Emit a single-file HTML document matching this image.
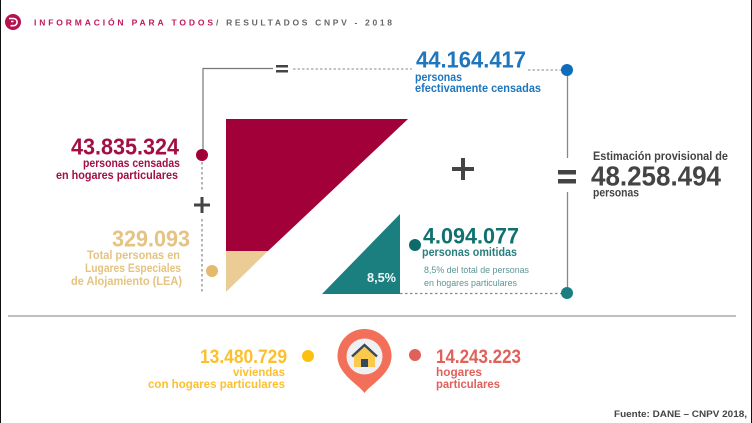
<!DOCTYPE html>
<html lang="es">
<head>
<meta charset="utf-8">
<title>Resultados CNPV 2018</title>
<style>
html,body{margin:0;padding:0;background:#fff;width:752px;height:423px;overflow:hidden}
svg{display:block;filter:blur(0.35px)}
text{font-family:"Liberation Sans",sans-serif;font-weight:bold}
</style>
</head>
<body>
<svg width="752" height="423" viewBox="0 0 752 423" xmlns="http://www.w3.org/2000/svg">
<rect x="0" y="0" width="752" height="423" fill="#fff"/>
<rect x="0" y="0" width="1" height="423" fill="#111"/>
<rect x="751" y="0" width="1" height="423" fill="#111"/>

<g>
<circle cx="13" cy="22" r="8" fill="#b5124f"/>
<path d="M9 18.500h4.500a3.600 3.600 0 0 1 0 7.200H10.500M11 21.500h2.500" fill="none" stroke="#fff" stroke-width="1.600"/>
<text x="34" y="25.500" font-size="8.500" fill="#c2185b" textLength="179" lengthAdjust="spacing">INFORMACIÓN PARA TODOS</text>
<text x="216" y="25.500" font-size="8.500" fill="#666" textLength="176" lengthAdjust="spacing">/ RESULTADOS CNPV - 2018</text>
</g>

<g>
<path d="M203 155V68.500H273" fill="none" stroke="#777" stroke-width="1.200"/>
<line x1="293" y1="69" x2="412" y2="69" stroke="#888" stroke-width="1" stroke-dasharray="2.500 2"/>
<line x1="528" y1="70" x2="562" y2="70" stroke="#888" stroke-width="1" stroke-dasharray="2.500 2"/>
<line x1="567.500" y1="70" x2="567.500" y2="158" stroke="#888" stroke-width="1.300"/>
<line x1="567.500" y1="192" x2="567.500" y2="293" stroke="#888" stroke-width="1.300"/>
<line x1="202" y1="162" x2="202" y2="191" stroke="#777" stroke-width="1.100" stroke-dasharray="2.500 2.500"/>
<line x1="202" y1="219" x2="202" y2="294" stroke="#777" stroke-width="1.100" stroke-dasharray="2.500 2.500"/>
<line x1="400" y1="293.500" x2="562" y2="293.500" stroke="#888" stroke-width="1.200" stroke-dasharray="2.500 2.500"/>
<line x1="8" y1="316" x2="736" y2="316" stroke="#aaa" stroke-width="1.500"/>
</g>

<g fill="#444">
<path d="M276 65h12v2.500h-12zM276 70h12v2.500h-12z"/>
<path d="M452 167h22v4h-22zM461 158h4v22h-4z"/>
<path d="M558 170h18v4.500h-18zM558 179h18v4.500h-18z"/>
<path d="M194 203.500h16v3h-16zM200.500 197h3v16h-3z"/>
</g>

<g>
<polygon points="226,119 408,119 268,251 226,251" fill="#a10038"/>
<polygon points="226,251 268,251 226,292" fill="#ebcc94"/>
<polygon points="400,214 400,294 322,294" fill="#1a7f7e"/>
<text x="367" y="282" font-size="12.500" fill="#f2f7f7" textLength="29" lengthAdjust="spacingAndGlyphs">8,5%</text>
</g>

<g>
<circle cx="567" cy="70" r="6" fill="#0f6cbd"/>
<circle cx="202" cy="155" r="6" fill="#a10038"/>
<circle cx="212" cy="271" r="6" fill="#e3ba6e"/>
<circle cx="415" cy="245" r="6" fill="#0f6b6b"/>
<circle cx="567" cy="293" r="6" fill="#1a7f7e"/>
<circle cx="308" cy="356" r="6" fill="#fdc010"/>
<circle cx="415" cy="355" r="6" fill="#e0605a"/>
</g>

<g fill="#1f76bd">
<text x="416" y="67.500" font-size="23" textLength="110" lengthAdjust="spacingAndGlyphs">44.164.417</text>
<text x="415" y="81" font-size="12" textLength="47" lengthAdjust="spacingAndGlyphs">personas</text>
<text x="415" y="92" font-size="12" textLength="126" lengthAdjust="spacingAndGlyphs">efectivamente censadas</text>
</g>

<g fill="#a10f45">
<text x="71" y="154.500" font-size="23" textLength="108" lengthAdjust="spacingAndGlyphs">43.835.324</text>
<text x="83" y="167" font-size="12" textLength="97" lengthAdjust="spacingAndGlyphs">personas censadas</text>
<text x="56" y="179" font-size="12" textLength="122" lengthAdjust="spacingAndGlyphs">en hogares particulares</text>
</g>

<g fill="#e5c382">
<text x="112" y="246.500" font-size="23" textLength="78" lengthAdjust="spacingAndGlyphs">329.093</text>
<text x="87" y="259" font-size="12" textLength="93" lengthAdjust="spacingAndGlyphs">Total personas en</text>
<text x="85" y="272" font-size="12" textLength="96" lengthAdjust="spacingAndGlyphs">Lugares Especiales</text>
<text x="71" y="285" font-size="12" textLength="111" lengthAdjust="spacingAndGlyphs">de Alojamiento (LEA)</text>
</g>

<g>
<text x="423" y="243.500" font-size="22" fill="#10716f" textLength="96" lengthAdjust="spacingAndGlyphs">4.094.077</text>
<text x="422" y="256" font-size="12" fill="#2a7f7d" textLength="95" lengthAdjust="spacingAndGlyphs">personas omitidas</text>
<text x="424" y="273" font-size="9" fill="#5c9695" style="font-weight:normal" textLength="105" lengthAdjust="spacingAndGlyphs">8,5% del total de personas</text>
<text x="424" y="286" font-size="9" fill="#5c9695" style="font-weight:normal" textLength="93" lengthAdjust="spacingAndGlyphs">en hogares particulares</text>
</g>

<g fill="#444">
<text x="593" y="160" font-size="11.500" textLength="135" lengthAdjust="spacingAndGlyphs">Estimación provisional de</text>
<text x="591" y="185.500" font-size="28" textLength="130" lengthAdjust="spacingAndGlyphs">48.258.494</text>
<text x="593" y="196.500" font-size="11.500" textLength="46" lengthAdjust="spacingAndGlyphs">personas</text>
</g>

<g fill="#fcc02e">
<text x="200" y="363" font-size="19" textLength="87" lengthAdjust="spacingAndGlyphs">13.480.729</text>
<text x="233" y="376" font-size="12" textLength="52" lengthAdjust="spacingAndGlyphs">viviendas</text>
<text x="148" y="388" font-size="12" textLength="137" lengthAdjust="spacingAndGlyphs">con hogares particulares</text>
</g>

<g>
<path d="M364.500 393 C358 384 337.500 374 337.500 356 A27 27 0 1 1 391.500 356 C391.500 374 371 384 364.500 393 Z" fill="#f2705a"/>
<circle cx="364.500" cy="356.500" r="18" fill="#eef0f3"/>
<polygon points="364.500,346 375,356 375,367 354,367 354,356" fill="#fcc94f"/>
<path d="M352 356.500 L364.500 345 L377 356.500" fill="none" stroke="#37495c" stroke-width="2.400"/>
<rect x="361" y="359" width="7" height="8" fill="#37495c"/>
</g>

<g fill="#e0605a">
<text x="436" y="363" font-size="19" textLength="85" lengthAdjust="spacingAndGlyphs">14.243.223</text>
<text x="436" y="376" font-size="12" textLength="46" lengthAdjust="spacingAndGlyphs">hogares</text>
<text x="436" y="388" font-size="12" textLength="64" lengthAdjust="spacingAndGlyphs">particulares</text>
</g>

<text x="614" y="417" font-size="9.500" fill="#444" textLength="133" lengthAdjust="spacingAndGlyphs">Fuente: DANE – CNPV 2018,</text>
</svg>
</body>
</html>
